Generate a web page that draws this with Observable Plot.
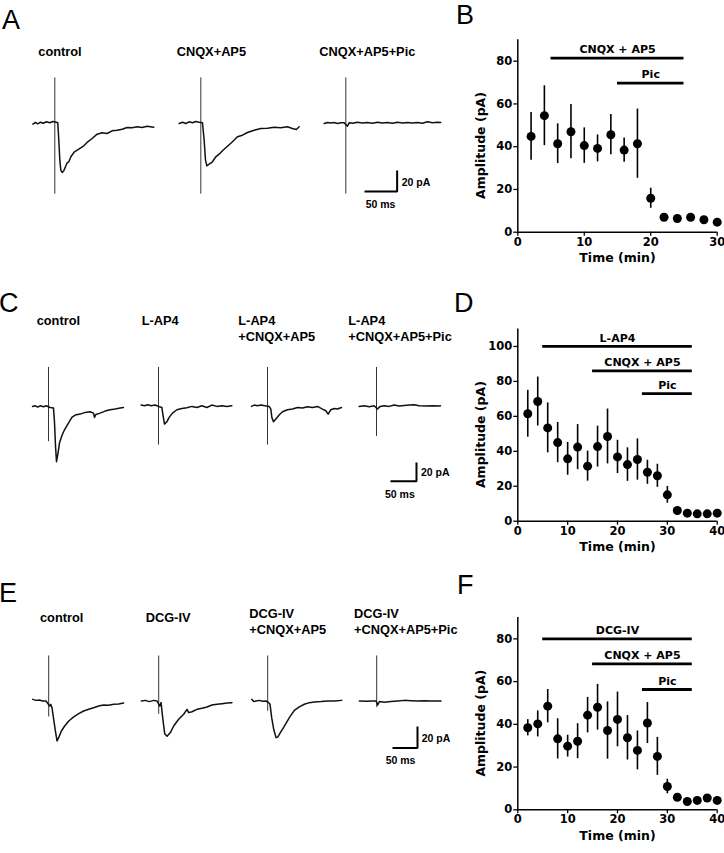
<!DOCTYPE html>
<html><head><meta charset="utf-8">
<script src="https://cdn.jsdelivr.net/npm/d3@7"></script>
<script src="https://cdn.jsdelivr.net/npm/@observablehq/plot@0.6"></script>
<style>
body{margin:0;background:#fff;}
#fig{position:relative;width:724px;height:853px;overflow:hidden;background:#fff;}
.lbl{position:absolute;font-family:"Liberation Sans",Arial,sans-serif;font-weight:bold;white-space:pre;color:#000;}
.letter{position:absolute;font-family:"Liberation Sans",Arial,sans-serif;font-weight:normal;white-space:pre;color:#000;}
</style></head><body><div id="fig"></div>
<script>
// ---------- Time-course data (B, D, F) ----------
const timeB = [2,4,6,8,10,12,14,16,18,20,22,24,26,28,30];
const ampB  = [44.8,54.5,41.4,47,40.5,39.2,45.6,38.4,41.4,15.9,7.0,6.4,7.0,5.8,4.7];
const semB  = [11.2,14,9.3,12.7,8.3,6.3,9.4,5.7,16.2,4.7,0.8,0.8,0.8,0.8,0.8];
const barsB = [{drug:"CNQX + AP5", start:5, end:25, level:81.4},{drug:"Pic", start:15, end:25, level:69.7}];

const timeD = [2,4,6,8,10,12,14,16,18,20,22,24,26,28,30,32,34,36,38,40];
const ampD  = [61.5,68.5,53.4,45,35.7,42.4,31.5,42.7,48.5,36.8,32.4,35.3,28,26,15.1,6.1,4.6,4.2,4.2,4.6];
const semD  = [13.4,14,14.3,11.5,9.4,12.9,8.6,11.7,15.7,9.5,9.6,11.8,6.9,6.6,4.8,1,0.8,0.8,0.8,0.8];
const barsD = [{drug:"L-AP4", start:5, end:35, level:100},{drug:"CNQX + AP5", start:15, end:35, level:86},{drug:"Pic", start:25, end:35, level:73}];

const timeF = [2,4,6,8,10,12,14,16,18,20,22,24,26,28,30,32,34,36,38,40];
const ampF  = [38.4,40.2,48.5,33.2,29.8,32.1,44.3,48,37.1,42.3,33.7,27.8,40.6,25,10.9,5.9,3.9,4.4,5.5,4.4];
const semF  = [3.8,6.1,7.8,9.4,5.1,8.2,8.3,10.7,13.4,12.8,10.4,9.1,9.6,8.9,3.4,1,0.8,0.8,1,0.8];
const barsF = [{drug:"DCG-IV", start:5, end:35, level:80},{drug:"CNQX + AP5", start:15, end:35, level:68.3},{drug:"Pic", start:25, end:35, level:56.3}];

const ticks30 = [0,10,20,30];
const ticks40 = [0,10,20,30,40];
const ticksY80 = [0,20,40,60,80];
const ticksY100 = [0,20,40,60,80,100];

// ---------- Traces: [time (ms from stimulus), current (pA from baseline)] ----------
const traceA1 = [[-34.7,-0.7],[-30.5,1],[-26.8,-0.3],[-22.6,1.3],[-18.4,0.3],[-13.2,1.7],[-7.9,0.7],[-3.2,2],[2.1,1.3],[4.7,0.7],[6.3,-16.7],[7.9,-36.7],[9.5,-46.7],[11.6,-49],[14.2,-47.3],[16.8,-43.3],[19.5,-39.3],[22.1,-38.3],[25.8,-32.7],[31.1,-28.3],[37.9,-25.7],[45.8,-22.3],[52.1,-18.3],[58.9,-15],[66.8,-10.7],[74.7,-9.3],[82.6,-10],[90.5,-7.3],[98.4,-6.7],[106.3,-5.7],[114.2,-4],[122.1,-4.3],[130,-3.3],[137.9,-4],[145.8,-2.7],[156.3,-3.7]];
const traceA2 = [[-34.2,0],[-28.9,1.3],[-23.7,0],[-18.4,1.7],[-13.2,0.7],[-7.9,2],[-2.6,1.3],[2.6,0.7],[5.3,-16.7],[7.4,-36.7],[9.5,-42.3],[13.2,-40.7],[18.4,-38.3],[23.7,-33.3],[28.9,-30.7],[34.2,-27.3],[42.1,-22.7],[50,-18.3],[57.9,-13.3],[65.8,-11.7],[73.7,-9],[84.2,-6.7],[94.7,-5],[105.3,-4.7],[115.8,-3.7],[126.3,-4.3],[136.8,-3.3],[144.7,-5],[151,-6],[155.3,-3.3]];
const traceA3 = [[-34.2,0],[-28.9,0.9],[-23.7,0.4],[-18.4,1],[-13.2,0],[-7.9,0.8],[-2.6,0.7],[2.6,-2.7],[5.3,0.7],[11,0.2],[18.4,1.3],[26,0.5],[34.2,0.9],[42,0.3],[50,1.3],[58,0.6],[65.8,0.9],[74,0.3],[81.6,1.3],[90,0.6],[97.4,1],[105,0.4],[113.2,0.9],[121,0.3],[128.9,1.7],[137,0.8],[144.7,1.3],[150,1]];

const traceC1 = [[-32,0.4],[-26.7,1.1],[-21.3,-0.4],[-16.7,1.1],[-10,0],[-4.7,1.1],[3.3,-0.8],[10,-1.5],[12,-17.7],[14,-44],[16,-62.1],[18.7,-53.5],[22,-41],[26.7,-32.8],[32,-26],[38.7,-19.6],[46.7,-12],[53.3,-9.4],[63.3,-8.3],[73.3,-6.4],[83.3,-5.6],[90,-7.2],[92,-12],[94.7,-8.7],[103.3,-7.2],[113.3,-4.9],[123.3,-3.4],[133.3,-2.6],[143.3,-1.5],[150,-0.8]];
const traceC2 = [[-34.7,1.9],[-28,1.1],[-21.3,2.3],[-14.7,1.1],[-6.7,1.9],[2,0],[6.7,-0.8],[8.7,-8.3],[12,-19.6],[16.7,-17],[21.3,-12],[28,-7.2],[36.7,-3.4],[46.7,-1.9],[56.7,-1.1],[66.7,0.4],[76.7,-0.8],[86.7,1.1],[96.7,-0.8],[106.7,1.9],[116.7,0.4],[126.7,1.1],[136.7,0.4],[146.7,1.1]];
const traceC3 = [[-32,0.4],[-26.7,1.9],[-20,1.1],[-13.3,1.9],[-5.3,1.1],[3.3,0.4],[6.7,-2.6],[8.7,-12],[12,-17],[16.7,-13.9],[23.3,-9.4],[30,-5.6],[40,-3.4],[50,-2.6],[60,-0.8],[70,-1.5],[80,0],[90,-0.8],[100,0.4],[110,-2.6],[116.7,-4.5],[121.3,-8.3],[126.7,-3.4],[133.3,-1.9],[140,-2.6],[148,-0.8]];
const traceC4 = [[-34.7,0.4],[-24.7,1.1],[-14.7,0],[-4.7,1.1],[2,-2.6],[7.3,0.4],[15.3,1.1],[25.3,0.4],[35.3,1.9],[45.3,0.8],[55.3,1.5],[65.3,1.9],[75.3,2.3],[85.3,1.1],[98.7,0.8],[112,1.1],[125.3,0.8],[128,1]];

const traceE1 = [[-33.3,1.6],[-26.4,0.6],[-19.4,1],[-12.5,0],[-5.6,0],[2.1,-4.9],[4.2,-3.2],[6.9,-6.5],[10.4,-17.8],[13.9,-29.1],[17.4,-38.8],[20.8,-35.6],[26.4,-29.1],[33.3,-24.3],[41.7,-19.4],[52.1,-15.5],[62.5,-12.3],[72.9,-9.7],[83.3,-8.1],[93.7,-6.5],[104.1,-4.9],[114.5,-3.9],[124.9,-4.2],[135.3,-3.2],[145.7,-2.9],[156.1,-1.9]];
const traceE2 = [[-36.1,0],[-27.8,0.6],[-19.4,-0.6],[-10.4,0.6],[-3.5,0],[2.1,-4.9],[4.9,-1.6],[8.3,-16.2],[12.5,-31.7],[17.4,-34.3],[24.3,-30.7],[31.2,-24.3],[41.6,-17.8],[52,-12.9],[59,-8.1],[62.5,-11.3],[69.4,-10.4],[79.8,-8.1],[90.2,-7.1],[100.6,-5.8],[111,-3.9],[121.4,-3.2],[131.8,-2.6],[142.2,-1.9],[152.7,-1.6]];
const traceE3 = [[-33.3,1.6],[-29.1,-0.6],[-24.3,0],[-17.4,0.6],[-10.4,-0.3],[-3.5,0],[2.1,-1.6],[4.9,-3.2],[8.3,-16.2],[12.5,-27.5],[17.4,-35.6],[20.8,-35],[26.4,-30.7],[34.7,-24.3],[45.1,-16.2],[55.5,-9.1],[65.9,-5.8],[76.3,-3.2],[86.7,-1.6],[97.2,-1],[111,-0.6],[124.9,0],[138.8,0],[154.1,0.6]];
const traceE4 = [[-36.1,0],[-22.2,-0.3],[-8.3,0],[-1.4,0],[2.1,-3.9],[5.6,-0.6],[16,-1.3],[29.8,-0.6],[43.7,0],[57.6,0.6],[71.5,0.3],[85.4,0],[99.2,0.3],[113.1,0],[134,0]];

// stimulus artifacts (pA extent above/below baseline, at t = 0 ms)
const artifactsA = [{t:0,top:45.6,bottom:-70.7},{t:0,top:45.6,bottom:-70.7},{t:0,top:45.6,bottom:-70.7}];
const artifactsC = [{t:0,top:44.4,bottom:-39.5},{t:0,top:44.4,bottom:-43.3},{t:0,top:44.4,bottom:-43.3},{t:0,top:44.4,bottom:-33.5}];
const artifactsE = [{t:0,top:43.7,bottom:-15.5},{t:0,top:43.7,bottom:-13},{t:0,top:43.7,bottom:-10},{t:0,top:43.7,bottom:-6.5}];

const conditionsA = ["control","CNQX+AP5","CNQX+AP5+Pic"];
const conditionsC = ["control","L-AP4","L-AP4\n+CNQX+AP5","L-AP4\n+CNQX+AP5+Pic"];
const conditionsE = ["control","DCG-IV","DCG-IV\n+CNQX+AP5","DCG-IV\n+CNQX+AP5+Pic"];

const scaleMs = 50, scalePA = 20;

// ---------- helpers ----------
const fig = document.getElementById("fig");
function place(node, left, top) {
  node.style.position = "absolute";
  node.style.left = left + "px";
  node.style.top = top + "px";
  fig.appendChild(node);
}
function label(text, x, baseline, fs, cls, lh) {
  const d = document.createElement("div");
  d.className = cls;
  d.textContent = text;
  d.style.fontSize = fs + "px";
  const L = lh || fs;
  d.style.lineHeight = L + "px";
  const off = (L - 1.117 * fs) / 2 + 0.905 * fs;
  place(d, x, baseline - off);
}

const T0 = -40, T1 = 165, I0 = -80, I1 = 50;
function drawTrace(points, art, row, k) {
  const svg = Plot.plot({
    width: (T1 - T0) * row.pxPerMs,
    height: (I1 - I0) * row.pxPerPA,
    margin: 0,
    x: {domain: [T0, T1], axis: null},
    y: {domain: [I0, I1], axis: null},
    style: {overflow: "visible", background: "transparent"},
    marks: [
      Plot.ruleX([art], {x: "t", y1: "bottom", y2: "top", stroke: "#333", strokeWidth: 1}),
      Plot.line(points, {x: d => d[0], y: d => d[1], stroke: "#111", strokeWidth: 1.5, strokeLinejoin: "round"})
    ]
  });
  place(svg, row.stimX[k] + T0 * row.pxPerMs, row.baseline - I1 * row.pxPerPA);
}
function drawScaleBar(row) {
  const svg = Plot.plot({
    width: scaleMs * row.pxPerMs,
    height: scalePA * row.pxPerPA,
    margin: 0,
    x: {domain: [0, scaleMs], axis: null},
    y: {domain: [0, scalePA], axis: null},
    style: {overflow: "visible", background: "transparent"},
    marks: [
      Plot.line([[0, 0], [scaleMs, 0], [scaleMs, scalePA]], {x: d => d[0], y: d => d[1], stroke: "#000", strokeWidth: 2, strokeLinejoin: "miter", strokeLinecap: "square"})
    ]
  });
  place(svg, row.barCorner[0] - scaleMs * row.pxPerMs, row.barCorner[1] - scalePA * row.pxPerPA);
  label(scalePA + " pA", row.barCorner[0] + 5, row.barCorner[1] - 5, 10.5, "lbl");
  label(scaleMs + " ms", row.barCorner[0] - 31, row.barCorner[1] + 16.5, 10.5, "lbl");
}
function drawRow(traces, arts, conds, row) {
  traces.forEach((tr, k) => drawTrace(tr, arts[k], row, k));
  conds.forEach((c, k) => label(c, row.labelX[k], row.labelY[k], 12.8, "lbl", row.lh));
  drawScaleBar(row);
}

function drawAmp(times, amps, sems, bars, cfg) {
  const data = times.map((t, i) => ({t, a: amps[i], s: sems[i]}));
  const svg = Plot.plot({
    width: 284, height: cfg.height,
    marginLeft: 77.3, marginRight: 7.3, marginTop: cfg.mt, marginBottom: cfg.mb,
    x: {domain: cfg.xDomain},
    y: {domain: cfg.yDomain},
    style: {overflow: "visible", background: "transparent", fontFamily: "'DejaVu Sans', sans-serif", fontWeight: "bold", fontSize: "11.5px", color: "#000"},
    marks: [
      Plot.axisX({ticks: cfg.xTicks, tickSize: 4, tickPadding: 1.5, label: null, strokeWidth: 1.3}),
      Plot.axisY({ticks: cfg.yTicks, tickSize: 4, tickPadding: 1.5, label: null, strokeWidth: 1.3}),
      Plot.ruleY([0], {strokeWidth: 1.5}),
      Plot.ruleX([0], {strokeWidth: 1.5}),
      Plot.ruleX(data, {x: "t", y1: d => d.a - d.s, y2: d => d.a + d.s, strokeWidth: 1.6}),
      Plot.dot(data, {x: "t", y: "a", r: 4.5, fill: "#000"}),
      Plot.ruleY(bars, {y: "level", x1: "start", x2: "end", strokeWidth: 2.8}),
      Plot.text(bars, {x: d => (d.start + d.end) / 2, y: "level", text: "drug", dy: -8.5, fontSize: 11}),
      Plot.text(["Time (min)"], {frameAnchor: "bottom", lineAnchor: "middle", textAnchor: "middle", dy: 26, fontSize: 12.5}),
      Plot.text(["Amplitude (pA)"], {frameAnchor: "left", lineAnchor: "middle", textAnchor: "middle", dx: -37, dy: 9.5, rotate: -90, fontSize: 12.5})
    ]
  });
  place(svg, 440, cfg.top);
}

// ---------- layout ----------
drawRow([traceA1, traceA2, traceA3], artifactsA, conditionsA, {
  stimX: [54.3, 200, 345], baseline: 123.3, pxPerMs: 0.633, pxPerPA: 1.0,
  labelX: [38.3, 176.7, 319.3], labelY: [56.7, 56.7, 56.7], lh: 16, barCorner: [396.7, 191]
});
drawRow([traceC1, traceC2, traceC3, traceC4], artifactsC, conditionsC, {
  stimX: [48.3, 158.3, 266.7, 375.7], baseline: 406, pxPerMs: 0.5, pxPerPA: 0.885,
  labelX: [36.7, 141.7, 238.3, 348.3], labelY: [325, 325, 325, 325], lh: 16, barCorner: [416, 481]
});
drawRow([traceE1, traceE2, traceE3, traceE4], artifactsE, conditionsE, {
  stimX: [48.3, 158.3, 266.7, 375.7], baseline: 700, pxPerMs: 0.48, pxPerPA: 1.03,
  labelX: [40, 145.7, 249.3, 354], labelY: [622.7, 622.7, 618.3, 618.3], lh: 16.5, barCorner: [416.7, 747.3]
});

drawAmp(timeB, ampB, semB, barsB, {top: 30, height: 250, mt: 9.3, mb: 48.3, xDomain: [0, 30], yDomain: [0, 90], xTicks: ticks30, yTicks: ticksY80});
drawAmp(timeD, ampD, semD, barsD, {top: 320, height: 250, mt: 8.5, mb: 49.3, xDomain: [0, 40], yDomain: [0, 110], xTicks: ticks40, yTicks: ticksY100});
drawAmp(timeF, ampF, semF, barsF, {top: 605, height: 248, mt: 12, mb: 43.7, xDomain: [0, 40], yDomain: [0, 90], xTicks: ticks40, yTicks: ticksY80});

const letters = [["A", 2, 30], ["B", 456, 25], ["C", -1, 313], ["D", 454, 313], ["E", -1, 603], ["F", 457, 595]];
letters.forEach(([s, x, b]) => label(s, x, b, 27, "letter"));
</script></body></html>
